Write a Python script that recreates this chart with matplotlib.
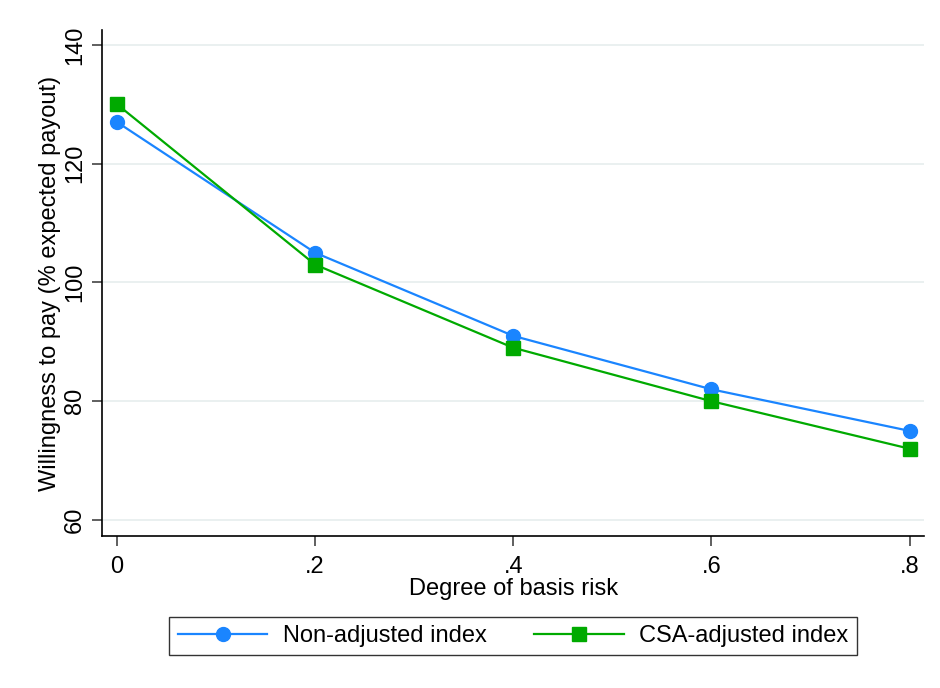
import matplotlib
matplotlib.use("Agg")
import matplotlib.pyplot as plt

plt.rcParams['font.family'] = ['Liberation Sans', 'DejaVu Sans']

basis_risk = [0, 0.2, 0.4, 0.6, 0.8]
non_adjusted = [127, 105, 91, 82, 75]
csa_adjusted = [130, 103, 89, 80, 72]

x_ticks = [0, 0.2, 0.4, 0.6, 0.8]
x_labels = ['0', '.2', '.4', '.6', '.8']
y_ticks = [60, 80, 100, 120, 140]

blue = '#1a85ff'
green = '#00aa00'

fig = plt.figure(figsize=(9.4, 6.88), dpi=100)
ax = fig.add_axes([0.1085, 0.2209, 0.875, 0.7355])

ax.plot(basis_risk, non_adjusted, color=blue, lw=1.6, marker='o', ms=10,
        label='Non-adjusted index', zorder=3)
ax.plot(basis_risk, csa_adjusted, color=green, lw=1.6, marker='s', ms=9.5,
        label='CSA-adjusted index', zorder=3)

ax.set_xlim(-0.0151, 0.815)
ax.set_ylim(57.3, 142.5)
ax.set_xticks(x_ticks)
ax.set_xticklabels(x_labels)
ax.set_yticks(y_ticks)
ax.set_yticklabels([str(v) for v in y_ticks], rotation=90, va='center')

ax.grid(axis='y', color='#e6eeee', lw=1.2, zorder=0)
for s in ['top', 'right']:
    ax.spines[s].set_visible(False)
for s in ['left', 'bottom']:
    ax.spines[s].set_linewidth(1.2)
ax.tick_params(labelsize=17, length=7.5, width=1.2, color='#444444')
ax.tick_params(axis='x', pad=7)
ax.tick_params(axis='y', pad=4)

ax.set_xlabel('Degree of basis risk', fontsize=17, labelpad=0)
ax.set_ylabel('Willingness to pay (% expected payout)', fontsize=17, labelpad=2)

leg = fig.legend(loc='center', bbox_to_anchor=(513 / 940, 1 - 636 / 688), ncol=2,
                 fontsize=17, frameon=True, fancybox=False, edgecolor='black',
                 handlelength=3.8, handletextpad=0.65, columnspacing=2.0,
                 borderpad=0.35, borderaxespad=0)
leg.get_frame().set_linewidth(1.0)

fig.savefig('out.png', dpi=100, facecolor='white')
